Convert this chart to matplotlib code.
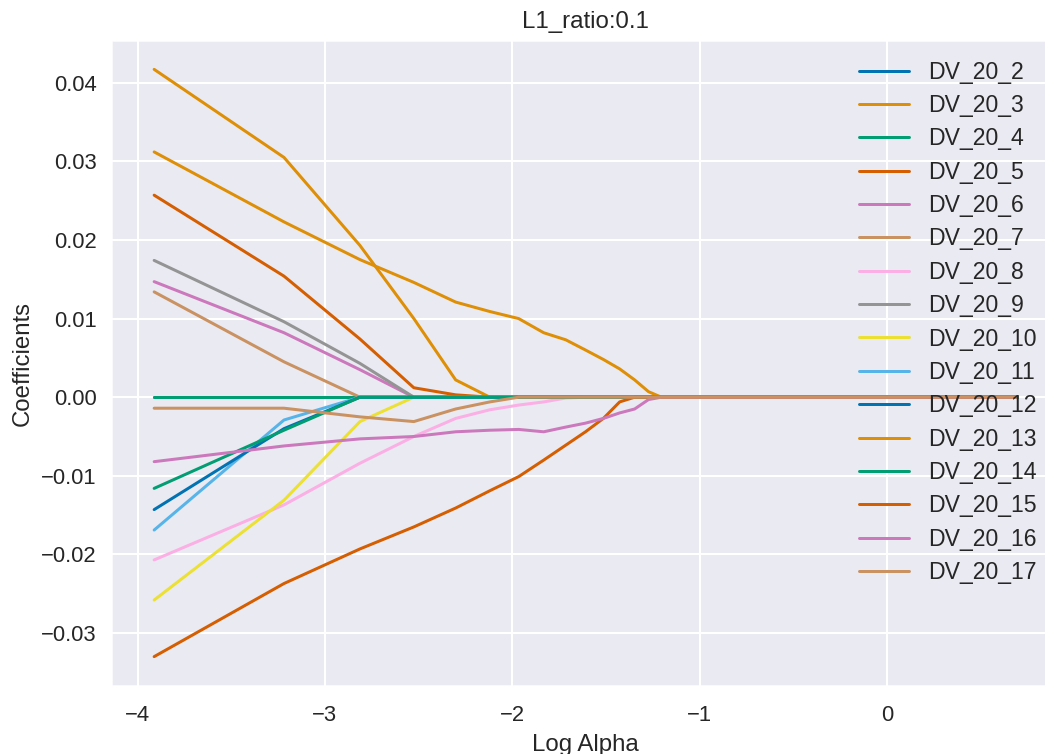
import matplotlib
matplotlib.use('Agg')
import matplotlib.pyplot as plt
import numpy as np
import seaborn as sns

# alpha grid of the elastic net path (plotted as natural log)
alphas = [0.02, 0.04, 0.06, 0.08, 0.10, 0.12, 0.14, 0.16, 0.18, 0.20,
          0.22, 0.24, 0.26, 0.28, 0.30, 2.0]

labels = ['DV_20_%d' % i for i in range(2, 18)]

dv_20_2 = [0.0] * 16
dv_20_3 = [0.0417, 0.0305, 0.0193, 0.0100, 0.0022, 0, 0, 0, 0, 0, 0, 0, 0, 0, 0, 0]
dv_20_4 = [0.0] * 16
dv_20_5 = [0.0257, 0.0154, 0.0074, 0.0012, 0.0003, 0, 0, 0, 0, 0, 0, 0, 0, 0, 0, 0]
dv_20_6 = [0.0147, 0.0082, 0.0035, 0, 0, 0, 0, 0, 0, 0, 0, 0, 0, 0, 0, 0]
dv_20_7 = [0.0134, 0.0045, 0, 0, 0, 0, 0, 0, 0, 0, 0, 0, 0, 0, 0, 0]
dv_20_8 = [-0.0207, -0.0137, -0.0084, -0.0050, -0.0027, -0.0016, -0.0010, -0.0006,
           -0.0001, 0, 0, 0, 0, 0, 0, 0]
dv_20_9 = [0.0174, 0.0096, 0.0043, 0, 0, 0, 0, 0, 0, 0, 0, 0, 0, 0, 0, 0]
dv_20_10 = [-0.0258, -0.0131, -0.0031, 0, 0, 0, 0, 0, 0, 0, 0, 0, 0, 0, 0, 0]
dv_20_11 = [-0.0169, -0.0029, 0, 0, 0, 0, 0, 0, 0, 0, 0, 0, 0, 0, 0, 0]
dv_20_12 = [-0.0143, -0.0040, 0, 0, 0, 0, 0, 0, 0, 0, 0, 0, 0, 0, 0, 0]
dv_20_13 = [0.0312, 0.0223, 0.0175, 0.0146, 0.0121, 0.0109, 0.0100, 0.0082,
            0.0073, 0.0060, 0.0048, 0.0036, 0.0022, 0.0007, 0, 0]
dv_20_14 = [-0.0116, -0.0042, 0, 0, 0, 0, 0, 0, 0, 0, 0, 0, 0, 0, 0, 0]
dv_20_15 = [-0.0330, -0.0237, -0.0193, -0.0165, -0.0141, -0.0119, -0.0101, -0.0080,
            -0.0061, -0.0044, -0.0027, -0.0006, 0, 0, 0, 0]
dv_20_16 = [-0.0082, -0.0062, -0.0053, -0.0050, -0.0044, -0.0042, -0.0041, -0.0044,
            -0.0038, -0.0033, -0.0027, -0.0020, -0.0015, -0.0003, 0, 0]
dv_20_17 = [-0.0014, -0.0014, -0.0025, -0.0031, -0.0015, -0.0006, 0, 0, 0, 0,
            0, 0, 0, 0, 0, 0]

series = [dv_20_2, dv_20_3, dv_20_4, dv_20_5, dv_20_6, dv_20_7, dv_20_8, dv_20_9,
          dv_20_10, dv_20_11, dv_20_12, dv_20_13, dv_20_14, dv_20_15, dv_20_16, dv_20_17]

sns.set_theme(style='darkgrid', palette='colorblind')
plt.rcParams['font.family'] = ['Liberation Sans', 'DejaVu Sans']

W, H, DPI = 1045, 754, 144
fig = plt.figure(figsize=(W / DPI, H / DPI), dpi=DPI)
# axes box in pixels: left 111, right ~1060 (runs past the edge), top 40, bottom 686
ax = fig.add_axes([111 / W, 1 - 686 / H, (1060 - 111) / W, (686 - 40) / H])

log_alpha = np.log(alphas)
for name, coefs in zip(labels, series):
    ax.plot(log_alpha, coefs, label=name)

ax.set_title('L1_ratio:0.1', fontsize=12)
ax.set_xlabel('Log Alpha', fontsize=12)
ax.set_ylabel('Coefficients', fontsize=12)
ax.tick_params(labelsize=11)
# y labels sit a little closer to the axes than seaborn's default
ax.tick_params(axis='y', pad=plt.rcParams['ytick.major.pad'] - 2.5)
ax.legend(loc='upper right', bbox_to_anchor=(0.997, 1.0), frameon=False,
          fontsize=11.5, labelspacing=0.45, handlelength=2.2,
          borderaxespad=0.5, borderpad=0.4)

fig.savefig('out.png', dpi=DPI)
